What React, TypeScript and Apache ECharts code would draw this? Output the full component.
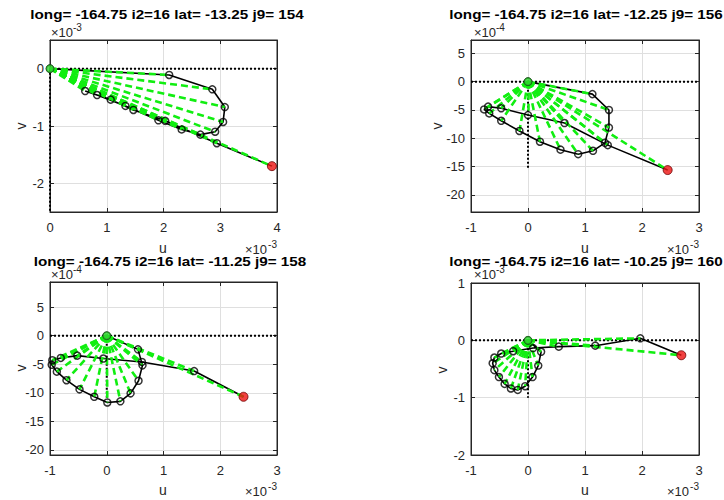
import React, { useEffect, useRef } from "react";
import * as echarts from "echarts";

const FONT = "'Liberation Sans', Arial, Helvetica, sans-serif";
const INK = "#262626";
const GRID = "#dfdfdf";

const titles = [
  "long= -164.75 i2=16 lat= -13.25 j9= 154",
  "long= -164.75 i2=16 lat= -12.25 j9= 156",
  "long= -164.75 i2=16 lat= -11.25 j9= 158",
  "long= -164.75 i2=16 lat= -10.25 j9= 160",
];

// Hodographs (u, v) in units of 1e-3, surface value first, ending at the origin.
const u154 = [3.91, 2.94, 2.03, 1.47, 1.07, 0.62, 0.83, 1.33, 1.91, 2.32, 2.65, 2.91, 3.05, 3.08, 2.86, 2.1, 0];
const v154 = [-1.7, -1.3, -0.91, -0.72, -0.54, -0.39, -0.46, -0.65, -0.9, -1.06, -1.15, -1.1, -0.93, -0.67, -0.36, -0.11, 0];

const u156 = [2.45, 1.4, 0.64, 0, -0.47, -0.7, -0.77, -0.68, -0.47, -0.15, 0.21, 0.57, 0.88, 1.14, 1.35, 1.42, 1.42, 1.13, 0];
const v156 = [-1.56, -1.12, -0.73, -0.59, -0.47, -0.44, -0.49, -0.56, -0.69, -0.87, -1.06, -1.2, -1.28, -1.22, -1.08, -0.81, -0.5, -0.22, 0];

const u158 = [2.41, 1.54, 0.62, -0.06, -0.52, -0.81, -0.96, -0.97, -0.88, -0.71, -0.48, -0.22, 0.01, 0.24, 0.42, 0.56, 0.63, 0.55, 0];
const v158 = [-1.07, -0.62, -0.46, -0.4, -0.35, -0.39, -0.43, -0.51, -0.63, -0.78, -0.94, -1.07, -1.17, -1.15, -1.01, -0.79, -0.52, -0.24, 0];

const u160 = [2.69, 1.97, 1.18, 0.54, 0.09, -0.26, -0.47, -0.59, -0.62, -0.59, -0.51, -0.41, -0.3, -0.18, -0.05, 0.08, 0.18, 0.23, 0];
const v160 = [-0.26, 0.035, -0.093, -0.11, -0.135, -0.19, -0.23, -0.3, -0.4, -0.52, -0.64, -0.76, -0.84, -0.865, -0.8, -0.64, -0.44, -0.2, 0];

// Tick positions (units of 1e-3)
const xTicks154 = [0, 1, 2, 3, 4];
const yTicks154 = [-2, -1, 0];
const xTicksWide = [-1, 0, 1, 2, 3];
const yTicksFine = [-2, -1.5, -1, -0.5, 0, 0.5]; // labelled in units of 1e-4
const yTicks160 = [-2, -1, 0, 1];

// Lower end of the dotted u = 0 guide in each panel
const guideDepth = [-2.5, -1.55, -1.1, -1.0];

const panels = [
  {
    u: u154, v: v154, title: titles[0], xTicks: xTicks154, yTicks: yTicks154,
    xMin: 0, xMax: 4, yMin: -2.5, yMax: 0.5, yFactor: 1, yExp: "-3", depth: guideDepth[0],
    grid: { left: 50, top: 40, width: 227, height: 172 },
    titlePos: [167, 15], vPos: [21, 126], uPos: [163, 248], yExpPos: [51, 32], xExpPos: [277, 249],
  },
  {
    u: u156, v: v156, title: titles[1], xTicks: xTicksWide, yTicks: yTicksFine,
    xMin: -1, xMax: 3, yMin: -2.3, yMax: 0.735, yFactor: 10, yExp: "-4", depth: guideDepth[1],
    grid: { left: 471, top: 40, width: 228, height: 172 },
    titlePos: [586, 15], vPos: [437, 126], uPos: [585, 248], yExpPos: [474, 32], xExpPos: [699, 249],
  },
  {
    u: u158, v: v158, title: titles[2], xTicks: xTicksWide, yTicks: yTicksFine,
    xMin: -1, xMax: 3, yMin: -2.09, yMax: 0.94, yFactor: 10, yExp: "-4", depth: guideDepth[2],
    grid: { left: 50, top: 282, width: 227, height: 173 },
    titlePos: [170, 262], vPos: [21, 368], uPos: [163, 490], yExpPos: [51, 274], xExpPos: [277, 491],
  },
  {
    u: u160, v: v160, title: titles[3], xTicks: xTicksWide, yTicks: yTicks160,
    xMin: -1, xMax: 3, yMin: -2, yMax: 1, yFactor: 1, yExp: "-3", depth: guideDepth[3],
    grid: { left: 471, top: 283, width: 228, height: 172 },
    titlePos: [586, 262], vPos: [442, 370], uPos: [585, 490], yExpPos: [474, 274], xExpPos: [699, 491],
  },
];

function exponentLeft(x: number, y: number, exp: string) {
  return [
    { type: "text", x, y, silent: true, style: { text: "×10", fill: INK, fontSize: 13, fontFamily: FONT, textAlign: "left", textVerticalAlign: "middle" } },
    { type: "text", x: x + 22, y: y - 5, silent: true, style: { text: exp, fill: INK, fontSize: 10, fontFamily: FONT, textAlign: "left", textVerticalAlign: "middle" } },
  ];
}

function exponentRight(x: number, y: number, exp: string) {
  return [
    { type: "text", x: x - 10, y, silent: true, style: { text: "×10", fill: INK, fontSize: 13, fontFamily: FONT, textAlign: "right", textVerticalAlign: "middle" } },
    { type: "text", x, y: y - 5, silent: true, style: { text: exp, fill: INK, fontSize: 10, fontFamily: FONT, textAlign: "right", textVerticalAlign: "middle" } },
  ];
}

function buildOption() {
  const grid: any[] = [];
  const xAxis: any[] = [];
  const yAxis: any[] = [];
  const series: any[] = [];
  const graphic: any[] = [];

  panels.forEach((p, i) => {
    grid.push({ ...p.grid, show: true, borderColor: INK, borderWidth: 1, backgroundColor: "#fff" });

    const labelStyle = { color: INK, fontSize: 13, fontFamily: FONT };
    xAxis.push({
      type: "value", gridIndex: i, position: "bottom", min: p.xMin, max: p.xMax,
      axisLine: { show: true, onZero: false, lineStyle: { color: INK, width: 1 } },
      axisTick: { show: true, inside: true, length: 4, customValues: p.xTicks, lineStyle: { color: INK } },
      axisLabel: { ...labelStyle, margin: 9, customValues: p.xTicks, formatter: (val: number) => String(Math.round(val)) },
      splitLine: { show: true, lineStyle: { color: GRID, width: 1 } },
    });
    xAxis.push({
      type: "value", gridIndex: i, position: "top", min: p.xMin, max: p.xMax,
      axisLine: { show: true, onZero: false, lineStyle: { color: INK, width: 1 } },
      axisTick: { show: true, inside: true, length: 4, customValues: p.xTicks, lineStyle: { color: INK } },
      axisLabel: { show: false },
      splitLine: { show: false },
    });
    yAxis.push({
      type: "value", gridIndex: i, position: "left", min: p.yMin, max: p.yMax,
      axisLine: { show: true, onZero: false, lineStyle: { color: INK, width: 1 } },
      axisTick: { show: true, inside: true, length: 4, customValues: p.yTicks, lineStyle: { color: INK } },
      axisLabel: { ...labelStyle, margin: 6, customValues: p.yTicks, formatter: (val: number) => String(Math.round(val * p.yFactor)) },
      splitLine: { show: true, lineStyle: { color: GRID, width: 1 } },
    });
    yAxis.push({
      type: "value", gridIndex: i, position: "right", min: p.yMin, max: p.yMax,
      axisLine: { show: true, onZero: false, lineStyle: { color: INK, width: 1 } },
      axisTick: { show: true, inside: true, length: 4, customValues: p.yTicks, lineStyle: { color: INK } },
      axisLabel: { show: false },
      splitLine: { show: false },
    });

    const xi = 2 * i;
    const yi = 2 * i;
    const pts = p.u.map((u, k) => [u, p.v[k]]);

    // dotted zero guides
    series.push({
      type: "line", xAxisIndex: xi, yAxisIndex: yi, silent: true, symbol: "none", z: 1,
      data: [[p.xMin, 0], [p.xMax, 0]],
      lineStyle: { color: "#000", width: 2, type: [2, 2] },
    });
    series.push({
      type: "line", xAxisIndex: xi, yAxisIndex: yi, silent: true, symbol: "none", z: 1,
      data: [[0, 0], [0, p.depth]],
      lineStyle: { color: "#000", width: 2, type: [2, 2] },
    });
    // hodograph
    series.push({
      type: "line", xAxisIndex: xi, yAxisIndex: yi, silent: true, symbol: "none", z: 2,
      data: pts,
      lineStyle: { color: "#000", width: 1.6 },
    });
    // rays from the origin to each level
    series.push({
      type: "lines", coordinateSystem: "cartesian2d", xAxisIndex: xi, yAxisIndex: yi, silent: true, z: 3,
      data: pts.filter((q) => q[0] !== 0 || q[1] !== 0).map((q) => ({ coords: [[0, 0], q] })),
      lineStyle: { color: "#11ee11", width: 2.6, type: [7, 4], opacity: 1, curveness: 0 },
    });
    // level markers
    series.push({
      type: "scatter", xAxisIndex: xi, yAxisIndex: yi, silent: true, z: 4,
      data: pts.slice(1),
      symbol: "circle", symbolSize: 7,
      itemStyle: { color: "rgba(0,0,0,0)", borderColor: "#000", borderWidth: 1.5 },
    });
    // origin marker
    series.push({
      type: "scatter", xAxisIndex: xi, yAxisIndex: yi, silent: true, z: 5,
      data: [[0, 0]], symbol: "circle", symbolSize: 8,
      itemStyle: { color: "#2fd42f", borderColor: "#1f5f1f", borderWidth: 1 },
    });
    // surface value
    series.push({
      type: "scatter", xAxisIndex: xi, yAxisIndex: yi, silent: true, z: 6,
      data: [pts[0]], symbol: "circle", symbolSize: 9,
      itemStyle: { color: "#ee1111", borderColor: "#6a0000", borderWidth: 1 },
    });

    // labels
    graphic.push({
      type: "text", x: p.titlePos[0], y: p.titlePos[1], scaleX: 1.27, silent: true, z: 10,
      style: { text: p.title, fill: "#000", fontSize: 12, fontWeight: "bold", fontFamily: FONT, textAlign: "center", textVerticalAlign: "middle" },
    });
    graphic.push({
      type: "text", x: p.uPos[0], y: p.uPos[1], silent: true,
      style: { text: "u", fill: INK, fontSize: 14, fontFamily: FONT, textAlign: "center", textVerticalAlign: "middle" },
    });
    graphic.push({
      type: "text", x: p.vPos[0], y: p.vPos[1], rotation: Math.PI / 2, silent: true,
      style: { text: "v", fill: INK, fontSize: 14, fontFamily: FONT, textAlign: "center", textVerticalAlign: "middle" },
    });
    graphic.push(...exponentLeft(p.yExpPos[0], p.yExpPos[1], p.yExp));
    graphic.push(...exponentRight(p.xExpPos[0], p.xExpPos[1], "-3"));
  });

  return {
    animation: false,
    backgroundColor: "#ffffff",
    grid,
    xAxis,
    yAxis,
    series,
    graphic,
  };
}

export default function App() {
  const ref = useRef<HTMLDivElement>(null);
  useEffect(() => {
    if (!ref.current) return;
    const chart = echarts.init(ref.current, undefined, { renderer: "svg" });
    chart.setOption(buildOption() as any);
    return () => chart.dispose();
  }, []);
  return (
    <div
      ref={ref}
      style={{ position: "fixed", left: 0, top: 0, width: 724, height: 500, background: "#fff" }}
    />
  );
}
